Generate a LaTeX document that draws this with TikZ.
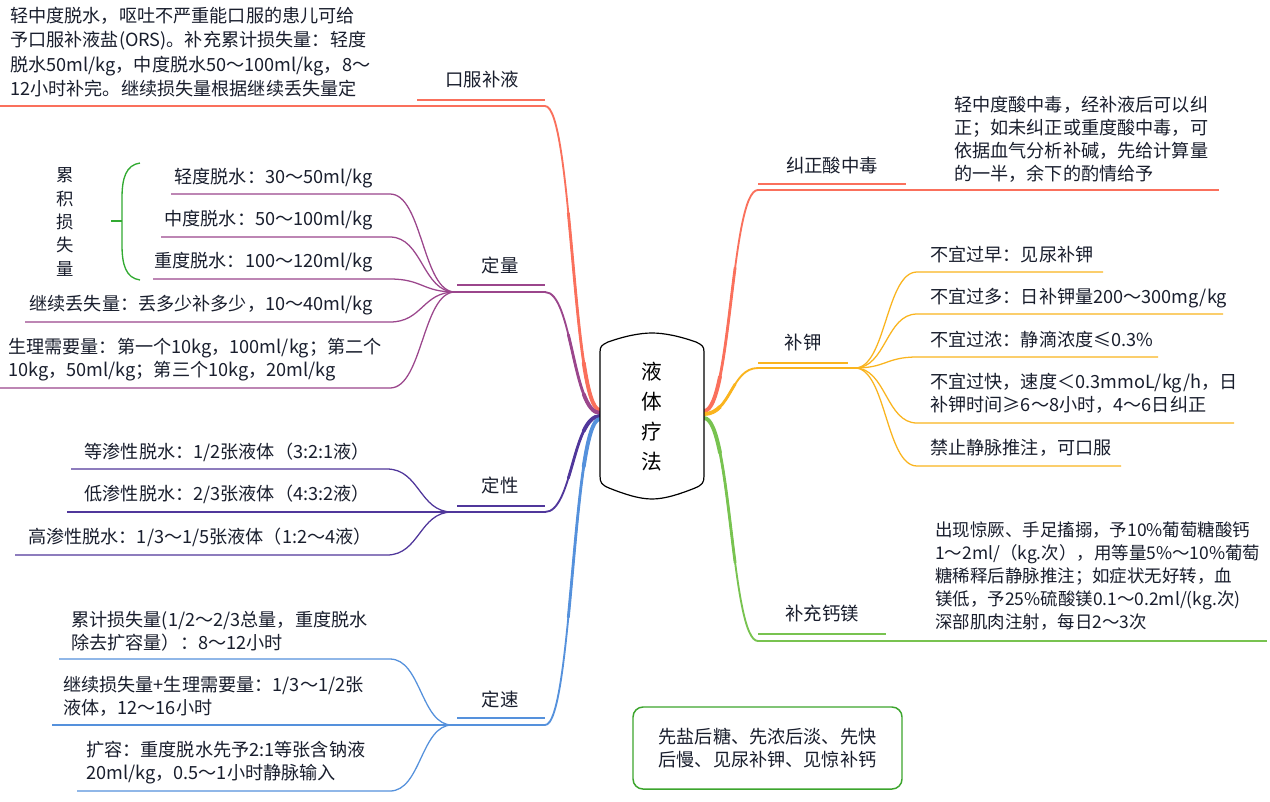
\documentclass[tikz,border=0pt]{standalone}
\usepackage{fontspec}
\setmainfont{Noto Sans CJK SC}
\usetikzlibrary{calc}
\definecolor{ink}{RGB}{25,30,45}
\definecolor{cred}{RGB}{250,112,92}
\definecolor{cpur}{RGB}{155,70,140}
\definecolor{cind}{RGB}{80,55,155}
\definecolor{cblu}{RGB}{85,145,220}
\definecolor{corg}{RGB}{250,180,30}
\definecolor{cgrn}{RGB}{120,195,80}
\definecolor{cbrk}{RGB}{50,170,50}
\definecolor{cbox}{RGB}{60,165,45}
% sub-curve [0,t] of cubic bezier #1 #2 #3 #4, t=#5, prefix #6
\newcommand\mmsub[6]{%
  \coordinate (#6q1) at ($(#1)!#5!(#2)$);
  \coordinate (#6q2) at ($(#2)!#5!(#3)$);
  \coordinate (#6q3) at ($(#3)!#5!(#4)$);
  \coordinate (#6r1) at ($(#6q1)!#5!(#6q2)$);
  \coordinate (#6r2) at ($(#6q2)!#5!(#6q3)$);
  \coordinate (#6e) at ($(#6r1)!#5!(#6r2)$);
}
% tapered main branch from #1 (root side) to #2, colour #3, prefix #4
\newcommand\mmtaper[4]{%
  \coordinate (#4m) at ($(#1)!0.5!(#2)$);
  \coordinate (#4a) at (#4m |- #1);
  \coordinate (#4b) at (#4m |- #2);
  \draw[#3, line width=1.4pt, line cap=round] (#1) .. controls (#4a) and (#4b) .. (#2);
  \mmsub{#1}{#4a}{#4b}{#2}{0.6}{#4s}
  \draw[#3, line width=2.1pt, line cap=round] (#1) .. controls (#4sq1) and (#4sr1) .. (#4se);
  \mmsub{#1}{#4a}{#4b}{#2}{0.25}{#4t}
  \draw[#3, line width=2.9pt, line cap=round] (#1) .. controls (#4tq1) and (#4tr1) .. (#4te);
}
% leaf connector from fan #1 to #2 then straight to #3, style #4, prefix #5
\newcommand\mmleaf[5]{%
  \coordinate (#5m) at ($(#1)!0.5!(#2)$);
  \draw[#4] (#1) .. controls (#5m |- #1) and (#5m |- #2) .. (#2) -- (#3);
}
\begin{document}
\begin{tikzpicture}[x=0.75pt,y=-0.75pt,
  txt/.style={inner sep=0pt, text=ink, font=\fontsize{13.6}{17.25}\selectfont, align=left},
  topic/.style={inner sep=0pt, text=ink, font=\fontsize{13.8}{16}\selectfont},
  leafline/.style={line width=0.95pt},
  mainline/.style={line width=1.2pt},
  uline/.style={line width=1.5pt},
]
\fill[white] (0,0) rectangle (1270,801);
\useasboundingbox (0,0) rectangle (1270,801);

% ---------- anchor coordinates ----------
\coordinate (L1) at (600,410); \coordinate (L2) at (600,413);
\coordinate (L3) at (600,416); \coordinate (L4) at (600,419);
\coordinate (R1) at (704,411); \coordinate (R2) at (704,414);
\coordinate (R3) at (704,418);

\coordinate (oA) at (545,106); \coordinate (oE) at (0,106);
\coordinate (qA) at (545,292); \coordinate (qF) at (455,292);
\coordinate (xA) at (545,512); \coordinate (xF) at (452,512);
\coordinate (sA) at (545,725); \coordinate (sF) at (452,725);
\coordinate (jA) at (758,190); \coordinate (jE) at (1219,190);
\coordinate (kA) at (758,368); \coordinate (kF) at (855,368);
\coordinate (gA) at (758,641); \coordinate (gE) at (1267,641);

% ---------- main branches ----------
\mmtaper{L1}{oA}{cred}{bo}
\mmtaper{L2}{qA}{cpur}{bq}
\mmtaper{L3}{xA}{cind}{bx}
\mmtaper{L4}{sA}{cblu}{bs}
\mmtaper{R1}{jA}{cred}{bj}
\mmtaper{R2}{kA}{corg}{bk}
\mmtaper{R3}{gA}{cgrn}{bg}

% main horizontal lines
\draw[cred, mainline] (oA) -- (oE);
\draw[cpur, mainline] (qA) -- (qF);
\draw[cind, mainline] (xA) -- (xF);
\draw[cblu, mainline] (sA) -- (sF);
\draw[cred, mainline] (jA) -- (jE);
\draw[corg, mainline] (kA) -- (kF);
\draw[cgrn, mainline] (gA) -- (gE);

% topic underlines
\coordinate (ou1) at (417,100); \coordinate (ou2) at (545,100);
\coordinate (qu1) at (457,285); \coordinate (qu2) at (545,285);
\coordinate (xu1) at (457,506); \coordinate (xu2) at (545,506);
\coordinate (su1) at (457,718); \coordinate (su2) at (545,718);
\coordinate (ju1) at (758,184); \coordinate (ju2) at (906,184);
\coordinate (ku1) at (758,363); \coordinate (ku2) at (848,363);
\coordinate (gu1) at (758,634); \coordinate (gu2) at (886,634);
\draw[cred, uline] (ou1) -- (ou2);
\draw[cpur, uline] (qu1) -- (qu2);
\draw[cind, uline] (xu1) -- (xu2);
\draw[cblu, uline] (su1) -- (su2);
\draw[cred, uline] (ju1) -- (ju2);
\draw[corg, uline] (ku1) -- (ku2);
\draw[cgrn, uline] (gu1) -- (gu2);

% ---------- leaf connectors ----------
% 定量
\coordinate (q1a) at (390,194); \coordinate (q1b) at (171,194);
\coordinate (q2a) at (390,237); \coordinate (q2b) at (161,237);
\coordinate (q3a) at (390,279); \coordinate (q3b) at (153,279);
\coordinate (q4a) at (390,322); \coordinate (q4b) at (25,322);
\coordinate (q5a) at (390,388); \coordinate (q5b) at (0,388);
\mmleaf{qF}{q1a}{q1b}{cpur,leafline}{lq1}
\mmleaf{qF}{q2a}{q2b}{cpur,leafline}{lq2}
\mmleaf{qF}{q3a}{q3b}{cpur,leafline}{lq3}
\mmleaf{qF}{q4a}{q4b}{cpur,leafline}{lq4}
\mmleaf{qF}{q5a}{q5b}{cpur,leafline}{lq5}
% 定性
\coordinate (x1a) at (387,469); \coordinate (x1b) at (71,469);
\coordinate (x2b) at (67,512);
\coordinate (x3a) at (387,555); \coordinate (x3b) at (15,555);
\mmleaf{xF}{x1a}{x1b}{cind,leafline}{lx1}
\draw[cind,leafline] (xF) -- (x2b);
\mmleaf{xF}{x3a}{x3b}{cind,leafline}{lx3}
% 定速
\coordinate (s1a) at (390,659); \coordinate (s1b) at (59,659);
\coordinate (s2b) at (52,725);
\coordinate (s3a) at (390,791); \coordinate (s3b) at (77,791);
\mmleaf{sF}{s1a}{s1b}{cblu,leafline}{ls1}
\draw[cblu,leafline] (sF) -- (s2b);
\mmleaf{sF}{s3a}{s3b}{cblu,leafline}{ls3}
% 补钾
\coordinate (k1a) at (917,272); \coordinate (k1b) at (1103,272);
\coordinate (k2a) at (917,314); \coordinate (k2b) at (1223,314);
\coordinate (k3a) at (917,357); \coordinate (k3b) at (1158,357);
\coordinate (k4a) at (917,423); \coordinate (k4b) at (1234,423);
\coordinate (k5a) at (917,466); \coordinate (k5b) at (1121,466);
\mmleaf{kF}{k1a}{k1b}{corg,leafline}{lk1}
\mmleaf{kF}{k2a}{k2b}{corg,leafline}{lk2}
\mmleaf{kF}{k3a}{k3b}{corg,leafline}{lk3}
\mmleaf{kF}{k4a}{k4b}{corg,leafline}{lk4}
\mmleaf{kF}{k5a}{k5b}{corg,leafline}{lk5}

% ---------- bracket ----------
\coordinate (brT) at (140,163); \coordinate (brB) at (140,280);
\coordinate (brM) at (122,221); \coordinate (brK) at (111,221);
\draw[cbrk, line width=1pt] (brT) .. controls (126,165) and (122,178) .. (122,198)
  -- (122,245) .. controls (122,265) and (126,278) .. (brB);
\draw[cbrk, line width=1pt] (brK) -- (brM);
\node[inner sep=0pt, text=ink, font=\fontsize{13}{17.5}\selectfont, align=center]
  (lei) at (65,222) {累\\积\\损\\失\\量};

% ---------- root ----------
\fill[white, draw=black, line width=0.9pt]
  (600,476) -- (600,352) .. controls (600,346) and (602,345) .. (608,342)
  .. controls (625,336) and (640,333) .. (652,333)
  .. controls (664,333) and (679,336) .. (696,342)
  .. controls (702,345) and (704,346) .. (704,352)
  -- (704,476) .. controls (704,483) and (702,485) .. (695,488)
  .. controls (680,494) and (665,499) .. (652,499)
  .. controls (639,499) and (624,494) .. (609,488)
  .. controls (602,485) and (600,483) .. (600,476) -- cycle;
\node[inner sep=0pt, text=black, font=\fontsize{15.5}{22.5}\selectfont, align=center]
  (root) at (652,417) {液\\体\\疗\\法};

% ---------- topic labels ----------
\node[topic] (tOral) at (482,79) {口服补液};
\node[topic] (tQty) at (500,265) {定量};
\node[topic] (tQual) at (500,485) {定性};
\node[topic] (tRate) at (500,699) {定速};
\node[topic] (tAcid) at (832,166) {纠正酸中毒};
\node[topic] (tK) at (803,342) {补钾};
\node[topic] (tCa) at (822,613) {补充钙镁};

% ---------- leaf texts ----------
\node[txt, anchor=west, font=\fontsize{13.6}{18.2}\selectfont] (nOral) at (10,52)
 {轻中度脱水，呕吐不严重能口服的患儿可给\\予口服补液盐(ORS)。补充累计损失量：轻度\\脱水50ml/kg，中度脱水50～100ml/kg，8～\\12小时补完。继续损失量根据继续丢失量定};

\node[txt, anchor=east] (nQ1) at (373,178) {轻度脱水：30～50ml/kg};
\node[txt, anchor=east] (nQ2) at (373,220) {中度脱水：50～100ml/kg};
\node[txt, anchor=east] (nQ3) at (373,262) {重度脱水：100～120ml/kg};
\node[txt, anchor=east] (nQ4) at (373,305) {继续丢失量：丢多少补多少，10～40ml/kg};
\node[txt, anchor=west] (nQ5) at (8,360) {生理需要量：第一个10kg，100ml/kg；第二个\\10kg，50ml/kg；第三个10kg，20ml/kg};

\node[txt, anchor=east] (nX1) at (370,452) {等渗性脱水：1/2张液体（3:2:1液）};
\node[txt, anchor=east] (nX2) at (370,494) {低渗性脱水：2/3张液体（4:3:2液）};
\node[txt, anchor=east] (nX3) at (372,537) {高渗性脱水：1/3～1/5张液体（1:2～4液）};

\node[txt, anchor=west] (nS1) at (71,631) {累计损失量(1/2～2/3总量，重度脱水\\除去扩容量）：8～12小时};
\node[txt, anchor=west] (nS2) at (63,696.5) {继续损失量+生理需要量：1/3～1/2张\\液体，12～16小时};
\node[txt, anchor=west] (nS3) at (86,762.5) {扩容：重度脱水先予2:1等张含钠液\\20ml/kg，0.5～1小时静脉输入};

\node[txt, anchor=west] (nAcid) at (954,139) {轻中度酸中毒，经补液后可以纠\\正；如未纠正或重度酸中毒，可\\依据血气分析补碱，先给计算量\\的一半，余下的酌情给予};

\node[txt, anchor=west] (nK1) at (930,255) {不宜过早：见尿补钾};
\node[txt, anchor=west] (nK2) at (930,298) {不宜过多：日补钾量200～300mg/kg};
\node[txt, anchor=west] (nK3) at (930,340) {不宜过浓：静滴浓度≤0.3\%};
\node[txt, anchor=west] (nK4) at (930,393.5) {不宜过快，速度＜0.3mmoL/kg/h，日\\补钾时间≥6～8小时，4～6日纠正};
\node[txt, anchor=west] (nK5) at (930,448) {禁止静脉推注，可口服};

\node[txt, anchor=west, font=\fontsize{13.1}{17.25}\selectfont] (nCa) at (935,576) {出现惊厥、手足搐搦，予10\%葡萄糖酸钙\\1～2ml/（kg.次），用等量5\%～10\%葡萄\\糖稀释后静脉推注；如症状无好转，血\\镁低，予25\%硫酸镁0.1～0.2ml/(kg.次)\\深部肌肉注射，每日2～3次};

% ---------- summary box ----------
\node[txt, draw=cbox, line width=1.1pt, rounded corners=7.5pt,
  minimum width=201.75pt, minimum height=61.5pt, inner xsep=13pt]
  (summary) at (767.5,748) {先盐后糖、先浓后淡、先快\\后慢、见尿补钾、见惊补钙};
\end{tikzpicture}
\end{document}
